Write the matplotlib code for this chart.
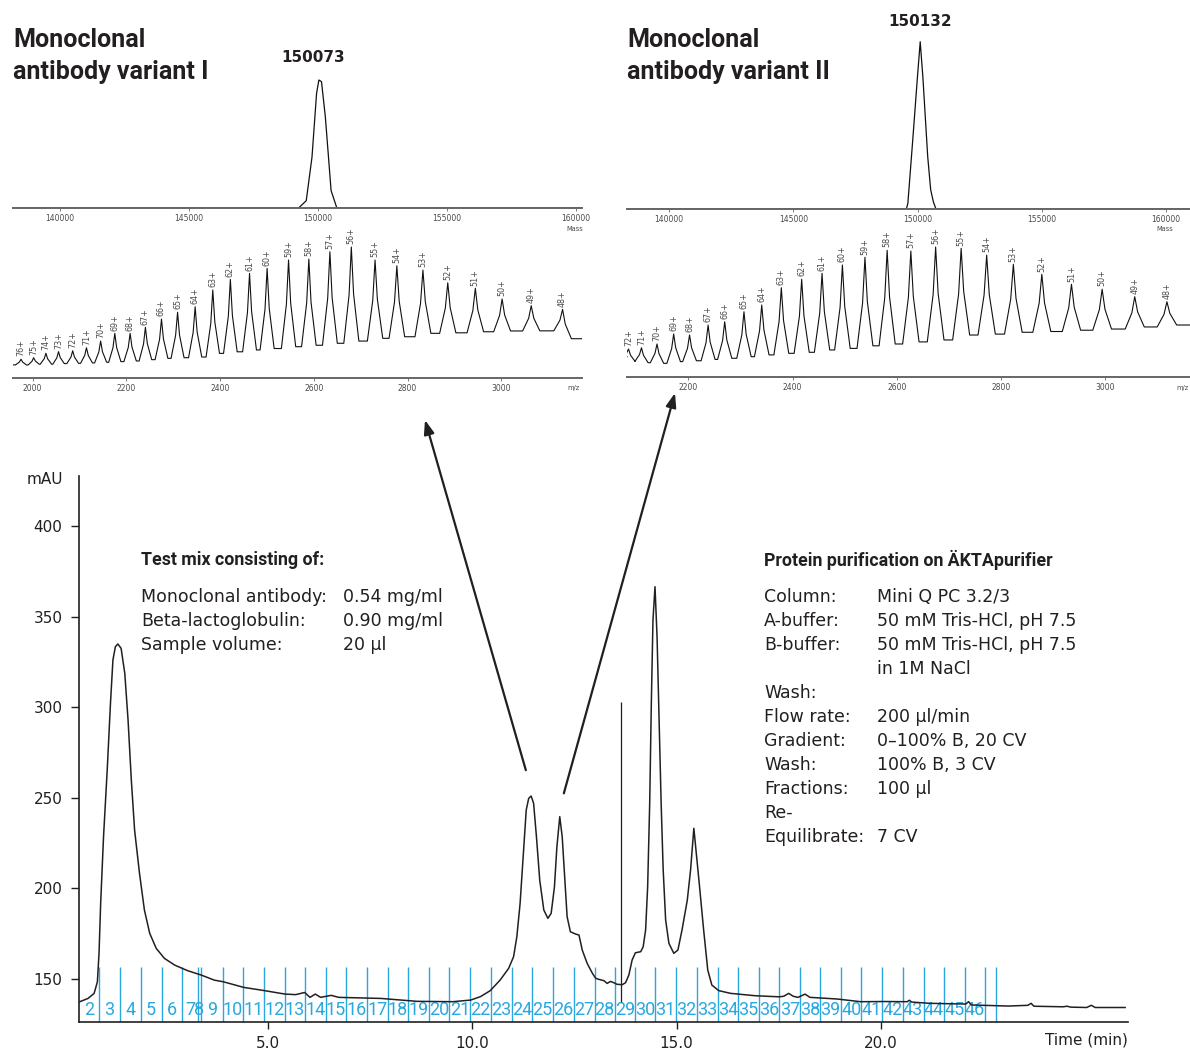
import matplotlib
matplotlib.use("Agg")
import matplotlib.pyplot as plt

W, H = 1190, 1049
INK = "#231f20"
GREY = "#4a4a4a"
BLUE = "#29a8e0"
TIGHT = ["Roboto", "DejaVu Sans"]

# ---------------- chromatogram (UV 280 nm) ----------------
time_min = [0.40, 0.60, 0.75, 0.83, 0.87, 0.91, 0.98, 1.07, 1.15, 1.21, 1.27, 1.33,
            1.41, 1.50, 1.58, 1.66, 1.74, 1.86, 1.98, 2.11, 2.27, 2.47, 2.72, 3.04,
            3.37, 3.69, 3.91, 4.41, 4.92, 5.42, 5.68, 5.90, 6.03, 6.16, 6.29, 6.55,
            6.73, 7.77, 8.65, 9.52, 9.96, 10.20, 10.44, 10.68, 10.89, 11.01, 11.09,
            11.17, 11.25, 11.32, 11.38, 11.44, 11.50, 11.57, 11.65, 11.75, 11.85,
            11.93, 12.01, 12.07, 12.14, 12.20, 12.26, 12.32, 12.40, 12.53, 12.61,
            12.69, 12.81, 12.94, 13.02, 13.10, 13.22, 13.30, 13.38, 13.46, 13.54,
            13.67, 13.75, 13.83, 13.91, 13.99, 14.12, 14.18, 14.24, 14.29, 14.34,
            14.38, 14.42, 14.47, 14.52, 14.57, 14.62, 14.67, 14.73, 14.81, 14.93,
            15.03, 15.13, 15.26, 15.34, 15.42, 15.48, 15.56, 15.66, 15.76, 15.86,
            16.03, 16.32, 16.92, 17.50, 17.62, 17.74, 17.85, 17.97, 18.14, 18.26,
            18.92, 19.50, 20.07, 20.64, 20.69, 20.75, 21.20, 22.07, 22.14, 22.21,
            23.11, 23.59, 23.67, 23.74, 24.45, 24.55, 24.64, 25.03, 25.14, 25.24,
            25.97]
mau = [137.5, 139.3, 142.1, 148.5, 164.2, 191.8, 228.5, 265.3, 302.2, 326.1, 333.4, 334.9,
       332.5, 318.7, 292.9, 259.8, 232.2, 208.3, 188.1, 175.2, 166.9, 161.4, 157.7, 154.6,
       152.2, 149.4, 148.5, 145.4, 143.6, 141.7, 141.4, 142.6, 139.9, 141.7, 139.9, 141.0,
       139.9, 139.3, 137.7, 137.5, 138.4, 140.3, 143.6, 149.4, 155.9, 162.3, 173.3,
       191.8, 219.4, 243.3, 249.7, 251.0, 247.0, 228.5, 204.6, 188.1, 183.5,
       186.3, 200.9, 223.0, 239.6, 228.5, 206.5, 184.4, 176.1, 174.8, 174.3,
       166.0, 158.7, 153.1, 150.4, 149.8, 149.1, 147.6, 148.7, 148.0, 147.1,
       146.9, 148.0, 152.2, 160.5, 164.5, 165.1, 167.8, 177.0, 200.9, 247.0,
       302.2, 348.1, 366.5, 338.9, 292.9, 247.0, 210.2, 182.6, 169.7, 164.2,
       166.0, 177.0, 193.6, 210.2, 233.2, 219.4, 200.9, 177.0, 155.0, 146.7,
       143.6, 142.1, 140.8, 140.2, 140.5, 142.1, 140.5, 139.9, 141.7, 139.9,
       139.0, 137.5, 137.6, 137.5, 138.3, 137.3, 136.6, 136.2, 137.5, 135.7,
       135.1, 135.5, 136.6, 135.0, 134.7, 135.0, 134.5, 134.3, 135.5, 134.3,
       134.3]

# fraction marks (min); fraction n lies between frac_edges[n-2] and frac_edges[n-1]
frac_edges = [0.38, 0.87, 1.38, 1.89, 2.40, 2.91, 3.29, 3.36, 3.90, 4.40, 4.91, 5.41,
              5.91, 6.41, 6.92, 7.42, 7.93, 8.43, 8.94, 9.44, 9.95, 10.46, 10.96,
              11.47, 11.97, 12.48, 12.99, 13.48, 13.98, 14.47, 14.99, 15.49, 16.00,
              16.50, 17.01, 17.51, 18.02, 18.51, 19.02, 19.52, 20.03, 20.53, 21.04,
              21.54, 22.05, 22.55, 22.81]
frac_labels = list(range(2, 47))
marker_time = 13.63

y_ticks = [150, 200, 250, 300, 350, 400]
x_ticks = [5, 10, 15, 20]
x_ticklabels = ["5.0", "10.0", "15.0", "20.0"]

# ---------------- deconvoluted mass spectra ----------------
mass_I = [149245, 149542, 149765, 149943, 150032, 150134, 150283, 150506, 150729]
int_mass_I = [0, 5.7, 39.7, 89.6, 100, 98.7, 71.2, 13.6, 0]
mass_II = [149548, 149608, 149804, 150000, 150105, 150211, 150407, 150527, 150633, 150738]
int_mass_II = [0, 3.4, 41.2, 80.2, 100, 79.1, 31.3, 11.4, 4.4, 0]
mass_ticks = [140000, 145000, 150000, 155000, 160000]

# ---------------- charge state envelopes ----------------
charge_I = list(range(76, 47, -1))
mz_I = [1975.5, 2002.4, 2028.6, 2055.5, 2085.7, 2115.1, 2145.3, 2175.5, 2208.2, 2240.8,
        2275.1, 2309.4, 2346.9, 2384.5, 2422.0, 2462.9, 2500.4, 2546.1, 2589.4, 2634.3,
        2680.0, 2730.6, 2777.1, 2832.7, 2885.7, 2944.5, 3001.6, 3063.7, 3130.6]
height_I = [14.3, 15.5, 18.9, 20.1, 20.8, 23.1, 28.2, 34.1, 34.1, 38.7, 45.0, 50.2, 54.4,
            67.2, 75.3, 79.9, 83.7, 90.1, 90.8, 96.4, 100, 90.1, 85.7, 82.4, 72.7, 68.5,
            60.3, 55.2, 52.4]
valley_I = [10.0, 9.9, 10.5, 10.5, 11.0, 11.2, 11.5, 12.0, 12.5, 13.0, 14.0, 15.0, 15.5,
            16.0, 18.8, 20.0, 21.4, 22.5, 23.9, 25.0, 26.5, 28.2, 30.3, 31.5, 34.1, 34.5,
            35.3, 35.9, 36.0, 30.0]

charge_II = list(range(72, 47, -1))
mz_II = [2085.0, 2109.8, 2139.6, 2171.6, 2202.1, 2237.7, 2269.6, 2306.6, 2340.7, 2378.3,
         2417.4, 2456.5, 2495.6, 2538.9, 2581.5, 2627.0, 2674.6, 2723.6, 2772.6, 2823.8,
         2878.5, 2935.4, 2994.3, 3056.9, 3118.7]
height_II = [21.5, 22.5, 25.4, 33.1, 32.3, 40.0, 42.5, 50.2, 55.4, 68.7, 75.2, 79.8, 86.2,
             92.1, 97.5, 96.9, 100, 99.0, 93.8, 86.7, 79.0, 71.3, 67.5, 61.8, 57.9]
valley_II = [15.6, 12.0, 11.0, 10.5, 11.8, 12.5, 13.5, 14.4, 15.6, 17.0, 18.2, 19.0, 20.8,
             22.0, 24.0, 25.4, 27.0, 28.5, 32.3, 33.0, 34.4, 35.0, 36.0, 36.9, 38.5, 40.0]
mz_ticks_I = [2000, 2200, 2400, 2600, 2800, 3000]
mz_ticks_II = [2200, 2400, 2600, 2800, 3000]

# ---------------- text blocks ----------------
mix_rows = [("Monoclonal antibody:", "0.54 mg/ml"),
            ("Beta-lactoglobulin:", "0.90 mg/ml"),
            ("Sample volume:", "20 µl")]
run_rows = [("Column:", "Mini Q PC 3.2/3"),
            ("A-buffer:", "50 mM Tris-HCl, pH 7.5"),
            ("B-buffer:", "50 mM Tris-HCl, pH 7.5"),
            ("", "in 1M NaCl"),
            ("Wash:", ""),
            ("Flow rate:", "200 µl/min"),
            ("Gradient:", "0–100% B, 20 CV"),
            ("Wash:", "100% B, 3 CV"),
            ("Fractions:", "100 µl"),
            ("Re-", ""),
            ("Equilibrate:", "7 CV")]

plt.rcParams["font.family"] = ["DejaVu Sans"]
fig = plt.figure(figsize=(W / 100, H / 100), dpi=100)


def box(l, t, r, b):
    a = fig.add_axes([l / W, 1 - b / H, (r - l) / W, (b - t) / H])
    a.patch.set_alpha(0)
    return a


def ftext(x, y, s, **kw):
    kw.setdefault("color", INK)
    kw.setdefault("va", "center")
    return fig.text(x / W, 1 - y / H, s, **kw)


def spectrum_axis(a, xlim, ylim_top, ticks):
    a.set_xlim(*xlim)
    a.set_ylim(0, ylim_top)
    for s in ("top", "right", "left"):
        a.spines[s].set_visible(False)
    a.spines["bottom"].set_color("#666666")
    a.spines["bottom"].set_linewidth(1.4)
    a.set_yticks([])
    a.set_xticks(ticks)
    a.set_xticklabels([str(t) for t in ticks])
    a.tick_params(axis="x", length=2, width=0.6, colors="#666666", labelsize=5.5,
                  labelcolor=GREY, pad=2)


def envelope(a, centers, heights, valleys, charges):
    lo, hi = a.get_xlim()
    xs, ys = [lo], [valleys[0]]
    for i, (c, h) in enumerate(zip(centers, heights)):
        w = c * 0.006
        vl, vr = valleys[i], valleys[i + 1]
        xs += [c - w, c - 0.3 * w, c, c + 0.3 * w, c + w]
        ys += [vl, vl + 0.5 * (h - vl), h, vr + 0.5 * (h - vr), vr]
    xs.append(hi)
    ys.append(valleys[-1])
    a.plot(xs, ys, color="#111111", lw=0.8)
    for c, h, z in zip(centers, heights, charges):
        a.annotate(f"{z}+", (c, h), xytext=(0, 2), textcoords="offset points",
                   rotation=90, ha="center", va="bottom", fontsize=5.8, color=GREY)


# ---- top left: variant I ----
ax_m1 = box(13, 20, 582, 208)
spectrum_axis(ax_m1, (138174, 160233), 146.9, mass_ticks)
ax_m1.plot([138174] + mass_I + [160233], [0] + int_mass_I + [0], color="#111111", lw=0.9)
ax_m1.annotate("150073", (150032, 100), xytext=(-4, 16), textcoords="offset points",
               ha="center", va="center", fontsize=11, fontweight="bold", color=INK)
ftext(575, 229, "Mass", fontsize=4.8, color=GREY, ha="center")

ax_z1 = box(13, 230, 582, 378)
spectrum_axis(ax_z1, (1958.4, 3172), 113, mz_ticks_I)
envelope(ax_z1, mz_I, height_I, valley_I, charge_I)
ftext(573, 388, "m/z", fontsize=4.8, color=GREY, ha="center")

# ---- top right: variant II ----
ax_m2 = box(627, 20, 1190, 209)
spectrum_axis(ax_m2, (138301, 160966), 113, mass_ticks)
ax_m2.plot([138301] + mass_II + [160966], [0] + int_mass_II + [0], color="#111111", lw=0.9)
ax_m2.annotate("150132", (150105, 100), xytext=(0, 14.5), textcoords="offset points",
               ha="center", va="center", fontsize=11, fontweight="bold", color=INK)
ftext(1165, 229, "Mass", fontsize=4.8, color=GREY, ha="center")

ax_z2 = box(627, 230, 1190, 377)
spectrum_axis(ax_z2, (2082, 3163), 113.1, mz_ticks_II)
envelope(ax_z2, mz_II, height_II, valley_II, charge_II)
ftext(1189, 388, "m/z", fontsize=4.8, color=GREY, ha="right")

for x0, name in ((13, "antibody variant I"), (627, "antibody variant II")):
    ftext(x0, 40, "Monoclonal", fontsize=18, fontweight="bold", family=TIGHT)
    ftext(x0, 72, name, fontsize=18, fontweight="bold", family=TIGHT)

# ---- chromatogram ----
ax = box(79, 476, 1128, 1022)
ax.set_xlim(0.38, 26.04)
ax.set_ylim(126.3, 427.6)
ymin = ax.get_ylim()[0]
ax.vlines(frac_edges[1:], ymin, 156.6, colors=BLUE, lw=1.0, zorder=1)
for i, n in enumerate(frac_labels):
    mid = (frac_edges[i] + frac_edges[i + 1]) / 2
    ax.text(mid, 132.9, str(n), ha="center", va="center", color=BLUE,
            fontsize=13, family=TIGHT, zorder=2)
ax.vlines(marker_time, 137.5, 302.9, colors=INK, lw=0.9, zorder=3)
ax.plot(time_min, mau, color=INK, lw=1.1, zorder=4, solid_joinstyle="round")

for s in ("top", "right"):
    ax.spines[s].set_visible(False)
for s in ("left", "bottom"):
    ax.spines[s].set_color(INK)
    ax.spines[s].set_linewidth(1.2)
ax.set_yticks(y_ticks)
ax.set_yticklabels([str(v) for v in y_ticks])
ax.set_xticks(x_ticks)
ax.set_xticklabels(x_ticklabels)
ax.tick_params(axis="y", length=6, width=1, pad=6, labelsize=11, colors=INK)
ax.tick_params(axis="x", length=5, width=1, pad=5, labelsize=11, colors=INK)
ftext(63, 479, "mAU", fontsize=11, ha="right")
ftext(1128, 1040, "Time (min)", fontsize=11, ha="right")

# arrows from the two antibody peaks up to their mass spectra
arrow = dict(arrowstyle="-|>,head_length=0.6,head_width=0.22", lw=1.6, color=INK,
             mutation_scale=14, shrinkA=0, shrinkB=0)
ax.annotate("", xy=(425, H - 420), xycoords="figure pixels",
            xytext=(11.31, 265.3), textcoords="data", arrowprops=arrow,
            annotation_clip=False)
ax.annotate("", xy=(675, H - 393), xycoords="figure pixels",
            xytext=(12.24, 252.5), textcoords="data", arrowprops=arrow,
            annotation_clip=False)

# ---- text blocks ----
ftext(141, 560, "Test mix consisting of:", fontsize=12.8, fontweight="bold", family=TIGHT)
for k, (lab, val) in enumerate(mix_rows):
    ftext(141, 597 + 24 * k, lab, fontsize=12.5)
    ftext(343, 597 + 24 * k, val, fontsize=12.5)

ftext(764, 560, "Protein purification on ÄKTApurifier", fontsize=12.8,
      fontweight="bold", family=TIGHT)
for k, (lab, val) in enumerate(run_rows):
    if lab:
        ftext(764, 597 + 24 * k, lab, fontsize=12.5)
    if val:
        ftext(877, 597 + 24 * k, val, fontsize=12.5)

fig.savefig("out.png", dpi=100)
